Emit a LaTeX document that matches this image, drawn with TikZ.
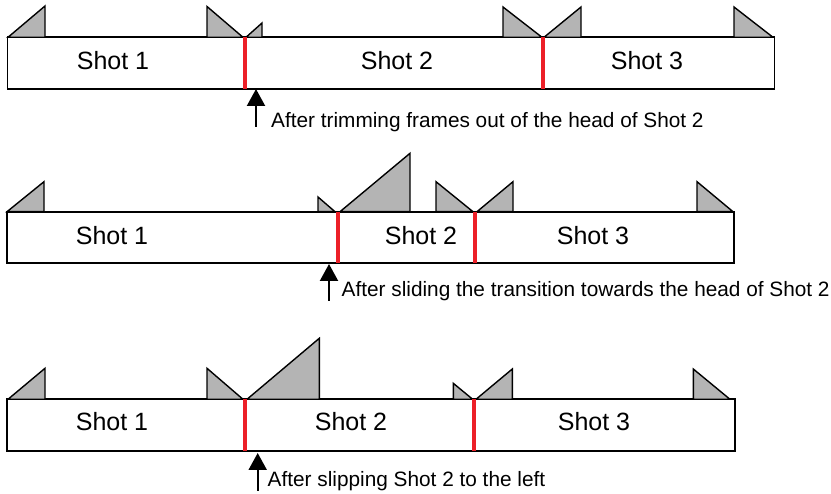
\documentclass[tikz,border=0pt]{standalone}
\usepackage{fontspec}
\setmainfont{Liberation Sans}
\usetikzlibrary{arrows.meta}
\definecolor{fadegray}{RGB}{180,180,180}
\definecolor{cutred}{RGB}{236,32,40}
\tikzset{
  clipbox/.style={draw=black, line width=1.8pt, fill=white, rectangle, inner sep=0pt},
  fadetri/.style={fill=fadegray, draw=black, line width=1.4pt, line join=miter},
  cutline/.style={draw=cutred, line width=4pt},
  shotlbl/.style={font=\fontsize{25}{30}\selectfont, anchor=base, inner sep=0pt},
  notelbl/.style={font=\fontsize{20.8}{25}\selectfont, anchor=base west, inner sep=0pt},
  uparrow/.style={-{Triangle[width=18pt,length=17pt]}, line width=2.2pt},
}
\begin{document}
\begin{tikzpicture}[x=1pt,y=-1pt]
\useasboundingbox (0,0) rectangle (831,494);

% ---------- Row 1 ----------
\node[clipbox, minimum width=767pt, minimum height=51.5pt] (r1) at (391,63) {};
\draw[fadetri] (8,37.3) -- (45,6) -- (45,37.3) -- cycle;
\draw[fadetri] (207,37.3) -- (207,6.5) -- (243,37.3) -- cycle;
\draw[fadetri] (246,37.3) -- (262,23) -- (262,37.3) -- cycle;
\draw[fadetri] (503,37.3) -- (503,7) -- (542,37.3) -- cycle;
\draw[fadetri] (544,37.3) -- (581,7) -- (581,37.3) -- cycle;
\draw[fadetri] (734,37.3) -- (734,7) -- (773,37.3) -- cycle;
\draw[cutline] (245,37.3) -- (245,88.7);
\draw[cutline] (543.3,37.3) -- (543.3,88.7);
\node[shotlbl] (s11) at (113,70) {Shot 1};
\node[shotlbl] (s12) at (397,70) {Shot 2};
\node[shotlbl] (s13) at (647,70) {Shot 3};
\coordinate (a1s) at (256,127);
\coordinate (a1e) at (256,89);
\draw[uparrow] (a1s) -- (a1e);
\node[notelbl] (n1) at (271,127.5) {After trimming frames out of the head of Shot 2};

% ---------- Row 2 ----------
\node[clipbox, minimum width=727pt, minimum height=51.6pt] (r2) at (370.5,237.5) {};
\draw[fadetri] (7,211.7) -- (44,181.7) -- (44,211.7) -- cycle;
\draw[fadetri] (318,211.7) -- (318,197) -- (335,211.7) -- cycle;
\draw[fadetri] (340,211.7) -- (410,153.3) -- (410,211.7) -- cycle;
\draw[fadetri] (436,211.7) -- (436,181.7) -- (473,211.7) -- cycle;
\draw[fadetri] (477,211.7) -- (513,181.7) -- (513,211.7) -- cycle;
\draw[fadetri] (697,211.7) -- (697,181.7) -- (733,211.7) -- cycle;
\draw[cutline] (337.7,211.7) -- (337.7,263.3);
\draw[cutline] (475,211.7) -- (475,263.3);
\node[shotlbl] (s21) at (112,244.3) {Shot 1};
\node[shotlbl] (s22) at (421,244.3) {Shot 2};
\node[shotlbl] (s23) at (593,244.3) {Shot 3};
\coordinate (a2s) at (329,301);
\coordinate (a2e) at (329,264);
\draw[uparrow] (a2s) -- (a2e);
\node[notelbl] (n2) at (341.5,296.5) {After sliding the transition towards the head of Shot 2};

% ---------- Row 3 ----------
\node[clipbox, minimum width=728pt, minimum height=51.7pt] (r3) at (371,425.2) {};
\draw[fadetri] (8,399.3) -- (45,368.3) -- (45,399.3) -- cycle;
\draw[fadetri] (207,399.3) -- (207,368.3) -- (243,399.3) -- cycle;
\draw[fadetri] (247,399.3) -- (319.3,338.3) -- (319.3,399.3) -- cycle;
\draw[fadetri] (453.3,399.3) -- (453.3,383.3) -- (472.7,399.3) -- cycle;
\draw[fadetri] (476,399.3) -- (512.3,369) -- (512.3,399.3) -- cycle;
\draw[fadetri] (693.3,399.3) -- (693.3,369) -- (730,399.3) -- cycle;
\draw[cutline] (244.7,399.3) -- (244.7,451);
\draw[cutline] (474.3,399.3) -- (474.3,451);
\node[shotlbl] (s31) at (112,430.7) {Shot 1};
\node[shotlbl] (s32) at (351,430.7) {Shot 2};
\node[shotlbl] (s33) at (594,430.7) {Shot 3};
\coordinate (a3s) at (257.7,491);
\coordinate (a3e) at (257.7,453);
\draw[uparrow] (a3s) -- (a3e);
\node[notelbl] (n3) at (267.5,486.7) {After slipping Shot 2 to the left};
\end{tikzpicture}
\end{document}
